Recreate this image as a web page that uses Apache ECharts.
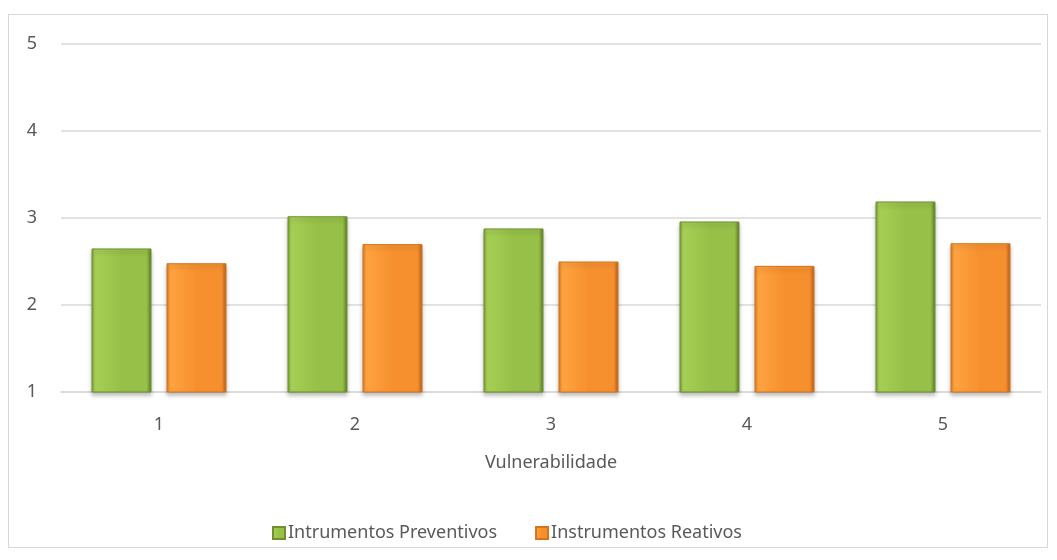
<!DOCTYPE html>
<html>
<head>
<meta charset="utf-8">
<script src="https://cdn.jsdelivr.net/npm/echarts@6/dist/echarts.min.js"></script>
<style>
  html, body { margin: 0; padding: 0; background: #fff; }
  #chart { width: 1057px; height: 560px; }
  .frame { position: absolute; left: 8px; top: 14px; width: 1040px; height: 534px; border: 1px solid #d9d9d9; box-sizing: border-box; pointer-events: none; }
</style>
</head>
<body>
<div id="chart"></div>
<div class="frame"></div>
<script>
  // Data
  const categories = ['1', '2', '3', '4', '5'];
  const preventivos = [2.65, 3.02, 2.88, 2.96, 3.19];
  const reativos = [2.48, 2.70, 2.50, 2.45, 2.71];
  const seriesNames = ['Intrumentos Preventivos', 'Instrumentos Reativos'];

  const FONT = '"Noto Sans", "Open Sans", sans-serif';
  const TEXT = '#595959';
  const GRID = '#d9d9d9';

  // bevel-ish fill for bars
  function bevel(edge, light, mid, dark) {
    return new echarts.graphic.LinearGradient(0, 0, 1, 0, [
      { offset: 0, color: edge },
      { offset: 0.06, color: light },
      { offset: 0.5, color: mid },
      { offset: 0.92, color: mid },
      { offset: 1, color: dark }
    ]);
  }

  const chart = echarts.init(document.getElementById('chart'));

  chart.setOption({
    backgroundColor: '#fff',
    animation: false,
    textStyle: { fontFamily: FONT },
    grid: { left: 61, right: 16, top: 44, bottom: 168 },
    legend: {
      bottom: 13,
      left: 267,
      itemWidth: 12,
      itemHeight: 12,
      itemGap: 38,
      icon: 'rect',
      textStyle: { color: TEXT, fontSize: 18, fontFamily: FONT, padding: [0, 0, 0, -2] },
      data: seriesNames
    },
    xAxis: {
      type: 'category',
      data: categories,
      name: 'Vulnerabilidade',
      nameLocation: 'middle',
      nameGap: 62,
      nameTextStyle: { color: TEXT, fontSize: 18, fontFamily: FONT },
      axisLine: { show: true, lineStyle: { color: GRID, width: 1.5 } },
      axisTick: { show: false },
      axisLabel: { color: TEXT, fontSize: 18, margin: 24, fontFamily: FONT }
    },
    yAxis: {
      type: 'value',
      min: 1,
      max: 5,
      interval: 1,
      axisLine: { show: false },
      axisTick: { show: false },
      axisLabel: { color: TEXT, fontSize: 18, margin: 24, fontFamily: FONT },
      splitLine: { lineStyle: { color: GRID, width: 1.5 } }
    },
    series: [
      {
        name: seriesNames[0],
        type: 'bar',
        data: preventivos,
        barWidth: 60,
        barGap: '25%',
        itemStyle: {
          color: bevel('#7a9c38', '#a6cf55', '#96c048', '#5d7d27'),
          borderColor: '#6f8f30',
          borderWidth: 1,
          shadowColor: 'rgba(0,0,0,0.25)',
          shadowBlur: 4,
          shadowOffsetY: 3
        }
      },
      {
        name: seriesNames[1],
        type: 'bar',
        data: reativos,
        barWidth: 60,
        itemStyle: {
          color: bevel('#d97a22', '#ffa340', '#f6902e', '#b8611a'),
          borderColor: '#d27420',
          borderWidth: 1,
          shadowColor: 'rgba(0,0,0,0.25)',
          shadowBlur: 4,
          shadowOffsetY: 3
        }
      }
    ]
  });
</script>
</body>
</html>
